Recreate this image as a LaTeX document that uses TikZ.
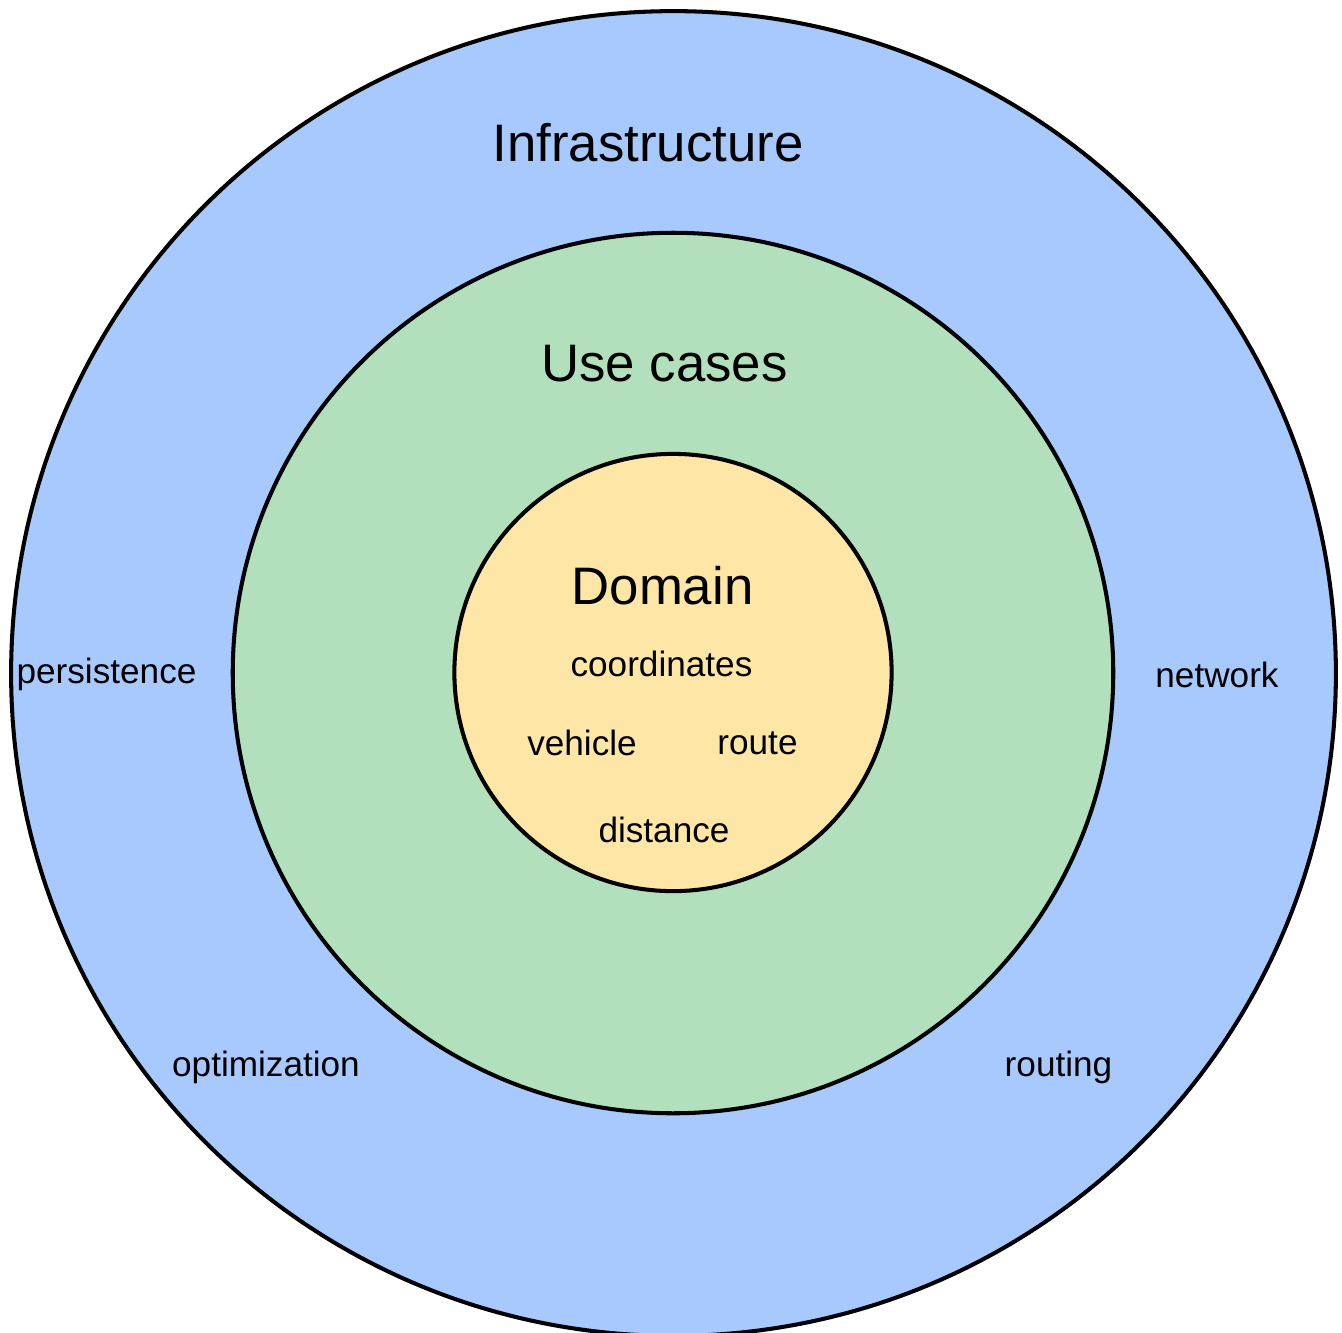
\documentclass[tikz,border=0pt]{standalone}
\usepackage{fontspec}
\setmainfont{Liberation Sans}
\definecolor{lBlue}{HTML}{A8C9FE}
\definecolor{lGreen}{HTML}{B2DFBC}
\definecolor{lYellow}{HTML}{FEE7A6}

\begin{document}
\begin{tikzpicture}[x=0.01cm,y=-0.01cm]
		\tikzstyle{RING} = [circle, draw=black, line width=1.15pt, inner sep=0pt]
		\tikzstyle{infraring} = [RING, fill=lBlue, minimum size=13.24cm]
		\tikzstyle{usering} = [RING, fill=lGreen, minimum size=8.8cm]
		\tikzstyle{domring} = [RING, fill=lYellow, minimum size=4.37cm]
		\tikzstyle{bigtext} = [anchor=base, inner sep=0pt, font=\fontsize{15}{18}\selectfont]
		\tikzstyle{smalltext} = [anchor=base, inner sep=0pt, font=\fontsize{10}{12}\selectfont]

		\useasboundingbox (0,0) rectangle (1342,1332);

		\node[infraring] (cInf) at 	(673.5, 673.5) {};
		\node[usering] (cUse) at 	(673, 673) {};
		\node[domring] (cDom) at 	(673, 672.5) {};

		\node[bigtext] (tInf) at 	(648, 161) {Infrastructure};
		\node[bigtext] (tUse) at 	(664.5, 381) {Use cases};
		\node[bigtext] (tDom) at 	(662.5, 604) {Domain};

		\node[smalltext] (iCoord) at 	(661.5, 676) {coordinates};
		\node[smalltext] (iVeh) at 	(582, 755) {vehicle};
		\node[smalltext] (iRoute) at 	(757.5, 754) {route};
		\node[smalltext] (iDist) at 	(664, 842) {distance};

		\node[smalltext] (iPers) at 	(106.5, 683) {persistence};
		\node[smalltext] (iNet) at 	(1217, 687) {network};
		\node[smalltext] (iOpt) at 	(266, 1076) {optimization};
		\node[smalltext] (iRout) at 	(1058.5, 1076) {routing};
\end{tikzpicture}
\end{document}
